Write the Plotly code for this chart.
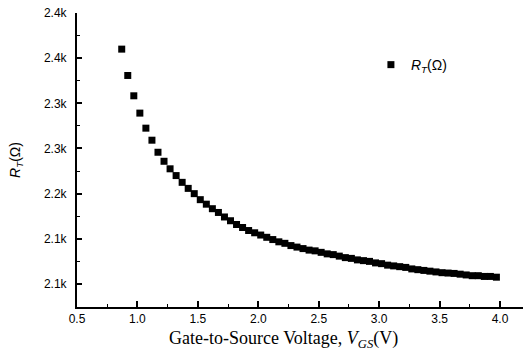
import plotly.graph_objects as go

# Gate-to-source voltage (V)
vgs = [0.87, 0.92, 0.97, 1.02, 1.07, 1.12, 1.17, 1.22, 1.27, 1.32,
       1.37, 1.42, 1.47, 1.52, 1.57, 1.62, 1.67, 1.72, 1.77, 1.82,
       1.87, 1.92, 1.97, 2.02, 2.07, 2.12, 2.17, 2.22, 2.27, 2.32,
       2.37, 2.42, 2.47, 2.52, 2.57, 2.62, 2.67, 2.72, 2.77, 2.82,
       2.87, 2.92, 2.97, 3.02, 3.07, 3.12, 3.17, 3.22, 3.27, 3.32,
       3.37, 3.42, 3.47, 3.52, 3.57, 3.62, 3.67, 3.72, 3.77, 3.82,
       3.87, 3.92, 3.97]

# R_T (ohm)
rt = [2392, 2357, 2330, 2307, 2287, 2271, 2255, 2243, 2233, 2224,
      2215, 2207, 2200, 2192, 2186, 2180, 2175, 2169, 2164, 2159,
      2155, 2151, 2148, 2145, 2142, 2139, 2136, 2134, 2131, 2129,
      2127, 2125, 2124, 2122, 2120, 2119, 2117, 2115, 2114, 2112,
      2111, 2110, 2108, 2107, 2105, 2104, 2103, 2102, 2100, 2099,
      2098, 2097, 2096, 2095, 2094.5, 2094, 2093, 2092, 2091, 2091,
      2090, 2090, 2089]

x_title = "Gate-to-Source Voltage, <i>V</i><sub><i>GS</i></sub>(V)"
y_title = "<i>R</i><sub><i>T</i></sub>(Ω)"

fig = go.Figure()
fig.add_trace(go.Scatter(
    x=vgs, y=rt, mode="markers",
    marker=dict(symbol="square", size=7, color="black", line=dict(width=0)),
    name="<i>R</i><sub><i>T</i></sub>(Ω)",
))

tick_font = dict(family="Liberation Sans, Arial, sans-serif", size=12, color="black")

fig.update_layout(
    width=529, height=352,
    margin=dict(l=77, r=6, t=13, b=45),
    paper_bgcolor="white", plot_bgcolor="white",
    showlegend=True,
    legend=dict(x=0.659, y=0.823, xanchor="left", yanchor="middle",
                bgcolor="rgba(0,0,0,0)",
                font=dict(family="Liberation Sans, Arial, sans-serif", size=14, color="black")),
    xaxis=dict(
        range=[0.5, 4.19], showgrid=False, zeroline=False,
        showline=True, linecolor="black", linewidth=2,
        tick0=0.5, dtick=0.5, tickformat=".1f",
        ticks="inside", ticklen=6, tickwidth=1.5, tickcolor="black",
        minor=dict(dtick=0.25, tick0=0.5, ticks="inside", ticklen=3, tickwidth=1, tickcolor="black"),
        tickfont=tick_font,
    ),
    yaxis=dict(
        range=[2049.4, 2440], showgrid=False, zeroline=False,
        showline=True, linecolor="black", linewidth=2,
        tick0=2080, dtick=60, tickformat=".2s",
        ticks="inside", ticklen=5, tickwidth=1.5, tickcolor="black",
        minor=dict(dtick=30, tick0=2080, ticks="inside", ticklen=3, tickwidth=1, tickcolor="black"),
        tickfont=tick_font, ticklabelstandoff=6,
        title=dict(text=y_title,
                   font=dict(family="Liberation Sans, Arial, sans-serif", size=14, color="black"),
                   standoff=20),
    ),
    annotations=[dict(
        text=x_title, xref="paper", yref="paper", x=0.464, y=-0.112,
        xanchor="center", yanchor="middle", showarrow=False,
        font=dict(family="Liberation Serif, Times New Roman, serif", size=18, color="black"),
    )],
)

fig.write_html("out.html")
